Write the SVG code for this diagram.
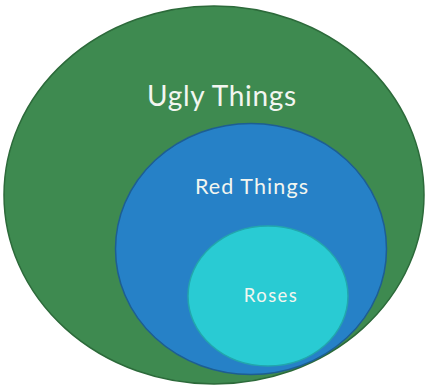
<svg xmlns="http://www.w3.org/2000/svg" width="425" height="390" viewBox="0 0 425 390">
<style>
.lbl{font-family:Lato,"Open Sans","Liberation Sans",sans-serif;fill:#f2f6f0;text-anchor:middle}
</style>
<rect width="425" height="390" fill="#ffffff"/>
<g id="ugly">
<ellipse cx="214" cy="195" rx="210" ry="189" fill="#3e8a50" stroke="#2c6a3a" stroke-width="1.5"/>
<text class="lbl" x="222" y="106" font-size="28" letter-spacing="0.7">Ugly Things</text>
</g>
<g id="red">
<ellipse cx="251" cy="249" rx="135.5" ry="125.5" fill="#2681c7" stroke="#1d5e93" stroke-width="1.5"/>
<text class="lbl" x="252" y="194" font-size="21.5" letter-spacing="1.1">Red Things</text>
</g>
<g id="roses">
<ellipse cx="268" cy="296" rx="80" ry="70" fill="#29cbd3" stroke="#22a6ad" stroke-width="1.5"/>
<text class="lbl" x="271" y="302" font-size="18.5" letter-spacing="1.4">Roses</text>
</g>
<g id="connectors"/>
</svg>
